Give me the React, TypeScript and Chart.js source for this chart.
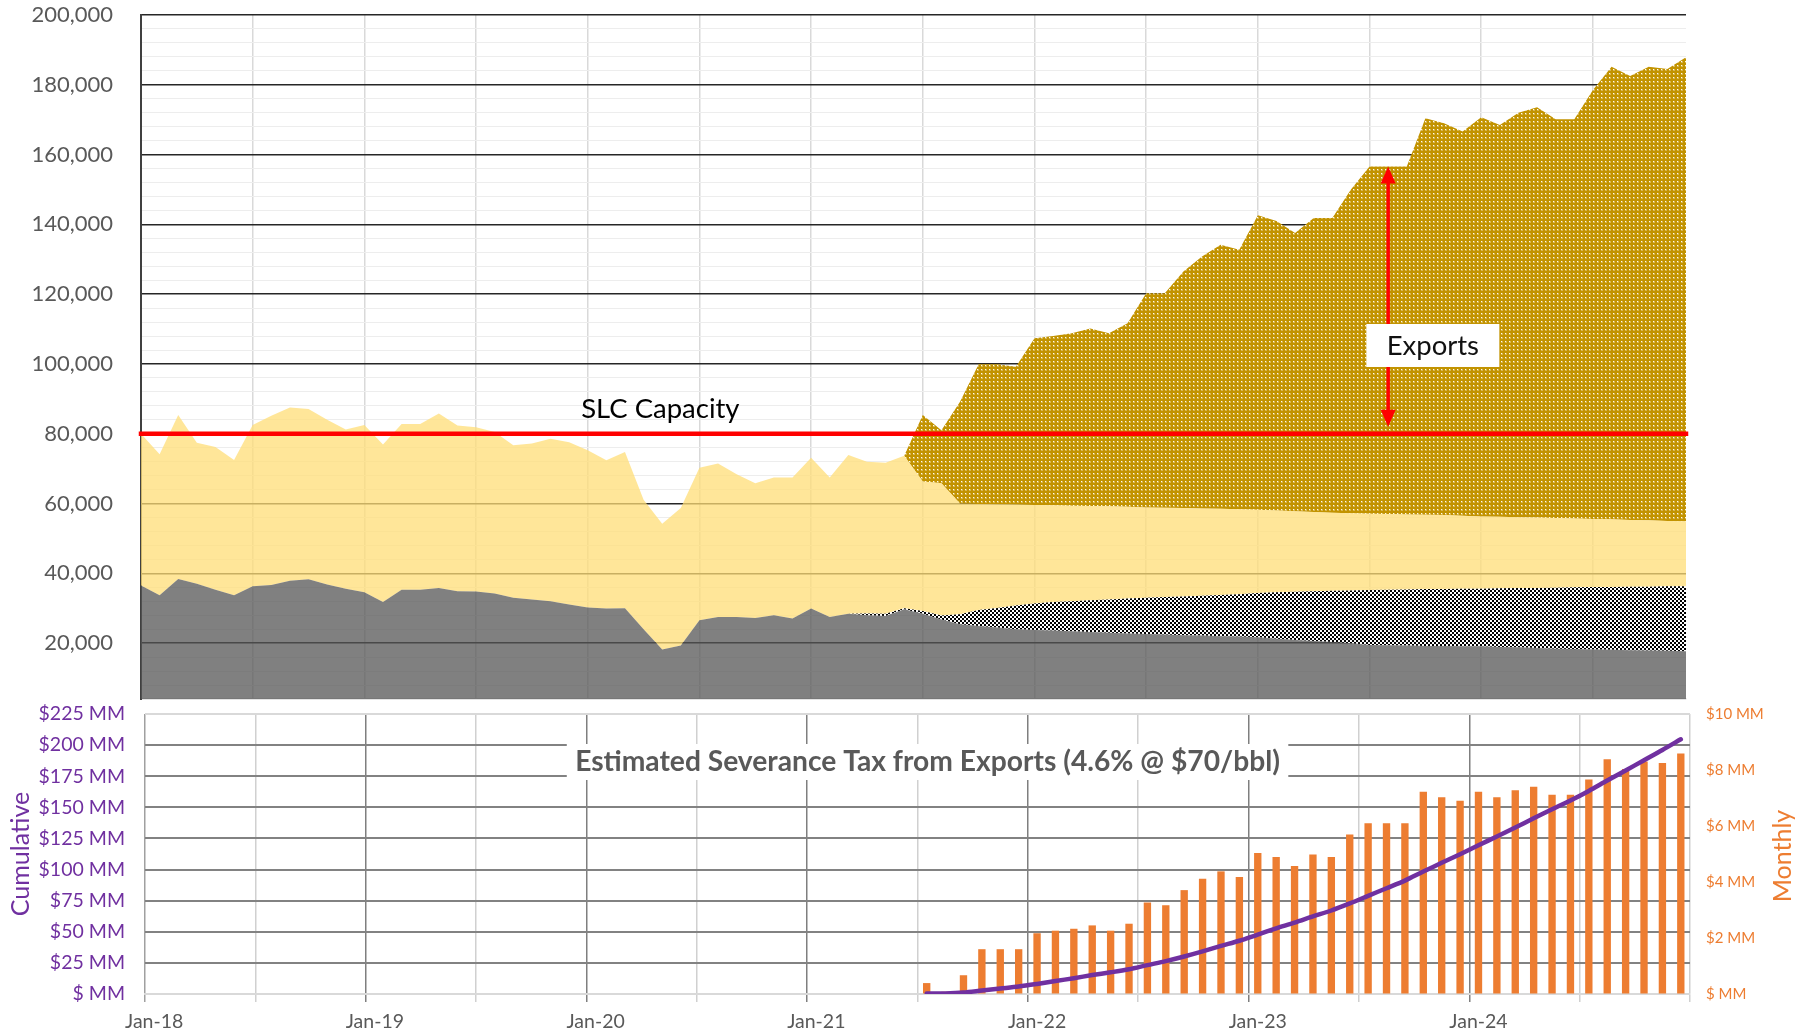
import React, { useEffect, useRef } from 'react';
import { Chart, registerables } from 'chart.js';

Chart.register(...registerables);

const FONT = 'Lato, "Open Sans", "Noto Sans", sans-serif';

// ---------- categories ----------
const MONTH_NAMES = ['Jan', 'Feb', 'Mar', 'Apr', 'May', 'Jun', 'Jul', 'Aug', 'Sep', 'Oct', 'Nov', 'Dec'];
const YEARS = ['18', '19', '20', '21', '22', '23', '24'];
const categories = YEARS.flatMap((y) => MONTH_NAMES.map((m) => `${m}-${y}`));

// ---------- top chart: boundaries of stacked areas (bbl/d) ----------
const grayTop = [
  36500, 33700, 38400, 37000, 35300, 33700, 36300, 36700, 37900, 38300, 36800, 35600,
  34600, 31800, 35300, 35300, 35800, 34900, 34800, 34200, 33000, 32500, 32000, 31100,
  30200, 29900, 30000, 24000, 18200, 19300, 26600, 27500, 27500, 27200, 28000, 27100,
  29900, 27500, 28400, 28000, 27800, 29700, 28400, 26800, 25400, 24900, 24500, 24000,
  23800, 23600, 23400, 23200, 23000, 22800, 22600, 22500, 22300, 22200, 22000, 21900,
  21700, 21300, 20900, 20600, 20300, 20000, 19500, 19400, 19300, 19200, 19200, 19100,
  19100, 18900, 18800, 18600, 18400, 18300, 18200, 18100, 18000, 17900, 17800, 17700,
];

const checkeredTop = [
  36500, 33700, 38400, 37000, 35300, 33700, 36300, 36700, 37900, 38300, 36800, 35600,
  34600, 31800, 35300, 35300, 35800, 34900, 34800, 34200, 33000, 32500, 32000, 31100,
  30200, 29900, 30000, 24000, 18200, 19300, 26600, 27500, 27500, 27200, 28000, 27100,
  29900, 27500, 28400, 28500, 28400, 30000, 29200, 27900, 28300, 29500, 30100, 30800,
  31400, 31800, 32000, 32300, 32500, 32800, 33000, 33200, 33400, 33600, 33800, 34000,
  34400, 34600, 34700, 34900, 35000, 35100, 35200, 35300, 35400, 35500, 35500, 35600,
  35600, 35700, 35800, 35800, 35900, 36000, 36100, 36100, 36200, 36200, 36300, 36300,
];

const yellowTop = [
  80000, 74100, 85400, 77400, 76200, 72500, 82500, 85200, 87500, 87100, 84000, 81200,
  82500, 76900, 82800, 82800, 85800, 82400, 81900, 80500, 76700, 77200, 78600, 77600,
  75300, 72400, 74800, 61100, 54200, 58700, 70300, 71500, 68400, 65800, 67500, 67500,
  73100, 67500, 73900, 72000, 71700, 73700, 66300, 65800, 60000, 59900, 59800, 59700,
  59600, 59500, 59400, 59300, 59200, 59100, 58900, 58800, 58700, 58600, 58500, 58400,
  58200, 58000, 57800, 57600, 57400, 57200, 57100, 57000, 56900, 56800, 56700, 56500,
  56300, 56200, 56100, 56000, 55900, 55700, 55600, 55500, 55300, 55200, 55000, 54900,
];

const exportsTop = [
  null, null, null, null, null, null, null, null, null, null, null, null,
  null, null, null, null, null, null, null, null, null, null, null, null,
  null, null, null, null, null, null, null, null, null, null, null, null,
  null, null, null, null, null, 73700, 85400, 81000, 89200, 99900, 99900, 99200,
  107400, 108000, 108800, 110200, 108800, 111700, 120300, 120300, 126500, 130800, 134200, 132700,
  142600, 141000, 137500, 141800, 141800, 150000, 156600, 156600, 156600, 170400, 169000, 166600,
  170700, 168500, 172000, 173600, 170100, 170100, 178500, 185200, 182500, 185200, 184500, 187900,
];

const SLC_CAPACITY = 80000;

// ---------- bottom chart ($ MM) ----------
const monthlyTax = [
  null, null, null, null, null, null, null, null, null, null, null, null,
  null, null, null, null, null, null, null, null, null, null, null, null,
  null, null, null, null, null, null, null, null, null, null, null, null,
  null, null, null, null, null, null, 0.39, 0.08, 0.67, 1.6, 1.6, 1.6,
  2.17, 2.26, 2.33, 2.45, 2.26, 2.51, 3.27, 3.17, 3.71, 4.12, 4.38, 4.18,
  5.04, 4.89, 4.57, 4.98, 4.89, 5.7, 6.1, 6.1, 6.1, 7.22, 7.03, 6.9,
  7.22, 7.03, 7.28, 7.4, 7.12, 7.12, 7.66, 8.38, 8.04, 8.3, 8.25, 8.59,
];

const cumulativeTax = [
  null, null, null, null, null, null, null, null, null, null, null, null,
  null, null, null, null, null, null, null, null, null, null, null, null,
  null, null, null, null, null, null, null, null, null, null, null, null,
  null, null, null, null, null, null, 0.4, 0.5, 1.2, 2.8, 4.4, 6.0,
  8.1, 10.4, 12.7, 15.2, 17.4, 19.9, 23.2, 26.4, 30.1, 34.2, 38.6, 42.8,
  47.8, 52.7, 57.3, 62.3, 67.1, 72.8, 78.9, 85.0, 91.1, 98.4, 105.4, 112.3,
  119.5, 126.6, 133.8, 141.2, 148.4, 155.5, 163.2, 171.5, 179.6, 187.9, 196.1, 204.7,
];

const TAX_TITLE = 'Estimated Severance Tax from Exports (4.6% @ $70/bbl)';

// annotation anchors (data units)
const ARROW_INDEX = 67;
const ARROW_TOP = 156600;
const ARROW_BOTTOM = 82000;
const EXPORTS_LABEL = { index: 69.4, value: 105300 };
const SLC_LABEL = { index: 27.9, value: 87100 };

function dotPattern(ctx: CanvasRenderingContext2D) {
  const c = document.createElement('canvas');
  c.width = 4;
  c.height = 4;
  const g = c.getContext('2d')!;
  g.fillStyle = '#C29300';
  g.fillRect(0, 0, 4, 4);
  g.fillStyle = 'rgba(255,250,235,0.35)';
  g.fillRect(1, 1, 2, 2);
  g.fillStyle = 'rgba(255,252,240,1)';
  g.fillRect(1, 1, 1, 1);
  return ctx.createPattern(c, 'repeat')!;
}

function checkerPattern(ctx: CanvasRenderingContext2D) {
  const c = document.createElement('canvas');
  c.width = 4;
  c.height = 4;
  const g = c.getContext('2d')!;
  g.fillStyle = '#ffffff';
  g.fillRect(0, 0, 4, 4);
  g.fillStyle = '#000000';
  g.fillRect(0, 0, 2, 2);
  g.fillRect(2, 2, 2, 2);
  return ctx.createPattern(c, 'repeat')!;
}

const topAnnotations = {
  id: 'topAnnotations',
  afterDatasetsDraw(chart: any) {
    const { ctx, scales } = chart;
    const x = scales.x;
    const y = scales.y;
    ctx.save();
    // double arrow
    const ax = x.getPixelForValue(ARROW_INDEX);
    const yT = y.getPixelForValue(ARROW_TOP);
    const yB = y.getPixelForValue(ARROW_BOTTOM);
    const head = 17;
    const hw = 7.5;
    ctx.strokeStyle = '#FF0000';
    ctx.fillStyle = '#FF0000';
    ctx.lineWidth = 3.5;
    ctx.beginPath();
    ctx.moveTo(ax, yT + head - 2);
    ctx.lineTo(ax, yB - head + 2);
    ctx.stroke();
    ctx.beginPath();
    ctx.moveTo(ax, yT);
    ctx.lineTo(ax - hw, yT + head);
    ctx.lineTo(ax + hw, yT + head);
    ctx.closePath();
    ctx.fill();
    ctx.beginPath();
    ctx.moveTo(ax, yB);
    ctx.lineTo(ax - hw, yB - head);
    ctx.lineTo(ax + hw, yB - head);
    ctx.closePath();
    ctx.fill();

    // Exports label box
    const ex = x.getPixelForValue(EXPORTS_LABEL.index);
    const ey = y.getPixelForValue(EXPORTS_LABEL.value);
    ctx.fillStyle = '#ffffff';
    ctx.fillRect(ex - 66.5, ey - 21.5, 133, 43);
    ctx.fillStyle = '#111111';
    ctx.font = `27.5px ${FONT}`;
    ctx.textAlign = 'center';
    ctx.textBaseline = 'middle';
    ctx.fillText('Exports', ex, ey + 1);

    // SLC Capacity label
    const sx = x.getPixelForValue(SLC_LABEL.index);
    const sy = y.getPixelForValue(SLC_LABEL.value);
    ctx.fillStyle = '#000000';
    ctx.fillText('SLC Capacity', sx, sy);
    ctx.restore();
  },
};

const bottomDecor = {
  id: 'bottomDecor',
  beforeDatasetsDraw(chart: any) {
    const { ctx, chartArea: a } = chart;
    const w = a.right - a.left;
    const l = a.left + w * 0.273;
    const r = a.left + w * 0.74;
    ctx.save();
    ctx.fillStyle = '#ffffff';
    ctx.fillRect(l, a.top + 30, r - l, 36);
    ctx.font = `bold 24px ${FONT}`;
    const tw = ctx.measureText(TAX_TITLE).width;
    const size = (24 * 705) / tw;
    ctx.font = `bold ${size}px ${FONT}`;
    ctx.fillStyle = '#595959';
    ctx.textAlign = 'center';
    ctx.textBaseline = 'middle';
    ctx.fillText(TAX_TITLE, (l + r) / 2, a.top + 48);
    ctx.restore();
  },
  afterDraw(chart: any) {
    const { ctx, chartArea: a } = chart;
    const cy = (a.top + a.bottom) / 2;
    ctx.save();
    ctx.textAlign = 'center';
    ctx.textBaseline = 'middle';
    ctx.font = `25px ${FONT}`;
    ctx.fillStyle = '#7030A0';
    ctx.translate(21, cy);
    ctx.rotate(-Math.PI / 2);
    ctx.fillText('Cumulative', 0, 0);
    ctx.restore();
    ctx.save();
    ctx.textAlign = 'center';
    ctx.textBaseline = 'middle';
    ctx.font = `25px ${FONT}`;
    ctx.fillStyle = '#ED7D31';
    ctx.translate(1783, cy + 2);
    ctx.rotate(-Math.PI / 2);
    ctx.fillText('Monthly', 0, 0);
    ctx.restore();
  },
};

const moneyLabel = (v: number) => (v === 0 ? '$ MM' : `$${v} MM`);
const CLEAR = 'rgba(0,0,0,0)';

export default function App() {
  const topRef = useRef<HTMLCanvasElement>(null);
  const botRef = useRef<HTMLCanvasElement>(null);

  useEffect(() => {
    Chart.defaults.font.family = FONT;
    const tctx = topRef.current!.getContext('2d')!;
    const dots = dotPattern(tctx);
    const checks = checkerPattern(tctx);

    const top = new Chart(topRef.current!, {
      type: 'line',
      data: {
        labels: categories,
        datasets: [
          {
            label: 'Base',
            data: grayTop,
            fill: 'start',
            backgroundColor: 'rgba(86,86,86,0.75)',
            borderWidth: 0,
            pointRadius: 0,
          },
          {
            label: 'Checkered',
            data: checkeredTop,
            fill: '-1',
            backgroundColor: checks,
            borderWidth: 0,
            pointRadius: 0,
          },
          {
            label: 'Local',
            data: yellowTop,
            fill: '-1',
            backgroundColor: 'rgba(255,222,119,0.75)',
            borderWidth: 0,
            pointRadius: 0,
          },
          {
            label: 'Exports',
            data: exportsTop,
            fill: '-1',
            backgroundColor: dots,
            borderWidth: 0,
            pointRadius: 0,
          },
          {
            label: 'SLC Capacity',
            data: [
              { x: categories[0], y: SLC_CAPACITY },
              { x: categories[categories.length - 1], y: SLC_CAPACITY },
            ],
            fill: false,
            borderColor: '#FF0000',
            borderWidth: 4.5,
            borderCapStyle: 'square',
            pointRadius: 0,
            clip: false,
            order: -1,
          } as any,
        ],
      },
      options: {
        responsive: false,
        animation: false,
        devicePixelRatio: 1,
        layout: { padding: { left: 0, right: 122, top: 15, bottom: 21 } },
        plugins: {
          legend: { display: false },
          tooltip: { enabled: false },
          title: { display: false },
        },
        elements: { line: { tension: 0 } },
        scales: {
          x: {
            type: 'category',
            offset: false,
            ticks: { display: false, autoSkip: false },
            grid: {
              drawTicks: false,
              color: (c: any) => (c.index !== undefined && c.index % 6 === 0 ? '#D9D9D9' : CLEAR),
              lineWidth: 1.5,
            },
            border: { display: true, color: '#D9D9D9', width: 1.5 },
          },
          y: {
            min: 4000,
            max: 200000,
            ticks: {
              stepSize: 4000,
              autoSkip: false,
              padding: 0,
              color: '#595959',
              font: { family: FONT, size: 22 },
              callback: (v: any) => (Number(v) % 20000 === 0 ? Number(v).toLocaleString('en-US') : ''),
            },
            grid: {
              drawTicks: true,
              tickLength: 28,
              tickColor: CLEAR,
              color: (c: any) => (c.tick && c.tick.value % 20000 === 0 ? '#262626' : '#EDEDED'),
              lineWidth: (c: any) => (c.tick && c.tick.value % 20000 === 0 ? 1.6 : 1),
            },
            border: { display: true, color: '#404040', width: 2 },
            afterFit: (s: any) => {
              s.width = 141;
            },
          },
        },
      },
      plugins: [topAnnotations],
    } as any);

    const bot = new Chart(botRef.current!, {
      type: 'bar',
      data: {
        labels: categories,
        datasets: [
          {
            type: 'bar',
            label: 'Monthly',
            data: monthlyTax,
            yAxisID: 'y1',
            backgroundColor: '#ED7D31',
            barPercentage: 0.4,
            categoryPercentage: 1,
            order: 1,
          },
          {
            type: 'line',
            label: 'Cumulative',
            data: cumulativeTax,
            yAxisID: 'y',
            borderColor: '#7030A0',
            borderWidth: 4.5,
            pointRadius: 0,
            tension: 0.3,
            borderCapStyle: 'round',
            order: 0,
          },
        ],
      } as any,
      options: {
        responsive: false,
        animation: false,
        devicePixelRatio: 1,
        layout: { padding: { left: 0, right: 0, top: 14, bottom: 0 } },
        plugins: {
          legend: { display: false },
          tooltip: { enabled: false },
          title: { display: false },
        },
        scales: {
          x: {
            type: 'category',
            offset: true,
            ticks: {
              autoSkip: false,
              maxRotation: 0,
              padding: 8,
              color: '#595959',
              font: { family: FONT, size: 19.5 },
              callback: (_v: any, i: number) => (i % 12 === 0 ? categories[i] : ''),
            },
            grid: {
              offset: true,
              tickLength: 8,
              lineWidth: 1.5,
              color: (c: any) => {
                if (c.index === undefined) return '#D0D0D0';
                if (c.index === 0) return '#A0A0A0';
                if (c.index % 12 === 0) return '#7F7F7F';
                if (c.index % 6 === 0) return '#D0D0D0';
                return CLEAR;
              },
            },
            border: { display: true, color: '#D9D9D9', width: 1.5 },
            afterFit: (s: any) => {
              s.height = 42;
            },
          },
          y: {
            position: 'left',
            min: 0,
            max: 225,
            ticks: {
              stepSize: 25,
              autoSkip: false,
              padding: 0,
              color: '#7030A0',
              font: { family: FONT, size: 19.5 },
              callback: (v: any) => moneyLabel(Number(v)),
            },
            grid: {
              drawTicks: true,
              tickLength: 20,
              tickColor: CLEAR,
              lineWidth: 2,
              color: (c: any) => (c.tick && (c.tick.value === 0 || c.tick.value === 225) ? '#D9D9D9' : '#828282'),
            },
            border: { display: false },
            afterFit: (s: any) => {
              s.width = 145;
            },
          },
          y1: {
            position: 'right',
            min: 0,
            max: 10,
            ticks: {
              stepSize: 2,
              autoSkip: false,
              padding: 0,
              color: '#ED7D31',
              font: { family: FONT, size: 15 },
              callback: (v: any) => moneyLabel(Number(v)),
            },
            grid: { display: true, drawOnChartArea: false, drawTicks: true, tickLength: 16, tickColor: CLEAR, color: CLEAR },
            border: { display: false },
            afterFit: (s: any) => {
              s.width = 118;
            },
          },
        },
      },
      plugins: [bottomDecor],
    } as any);

    return () => {
      top.destroy();
      bot.destroy();
    };
  }, []);

  return (
    <div
      style={{
        position: 'absolute',
        left: 0,
        top: 0,
        width: 1808,
        height: 1036,
        background: '#ffffff',
        overflow: 'hidden',
      }}
    >
      <canvas ref={topRef} width={1808} height={720} style={{ position: 'absolute', left: 0, top: 0 }} />
      <canvas ref={botRef} width={1808} height={336} style={{ position: 'absolute', left: 0, top: 700 }} />
    </div>
  );
}
